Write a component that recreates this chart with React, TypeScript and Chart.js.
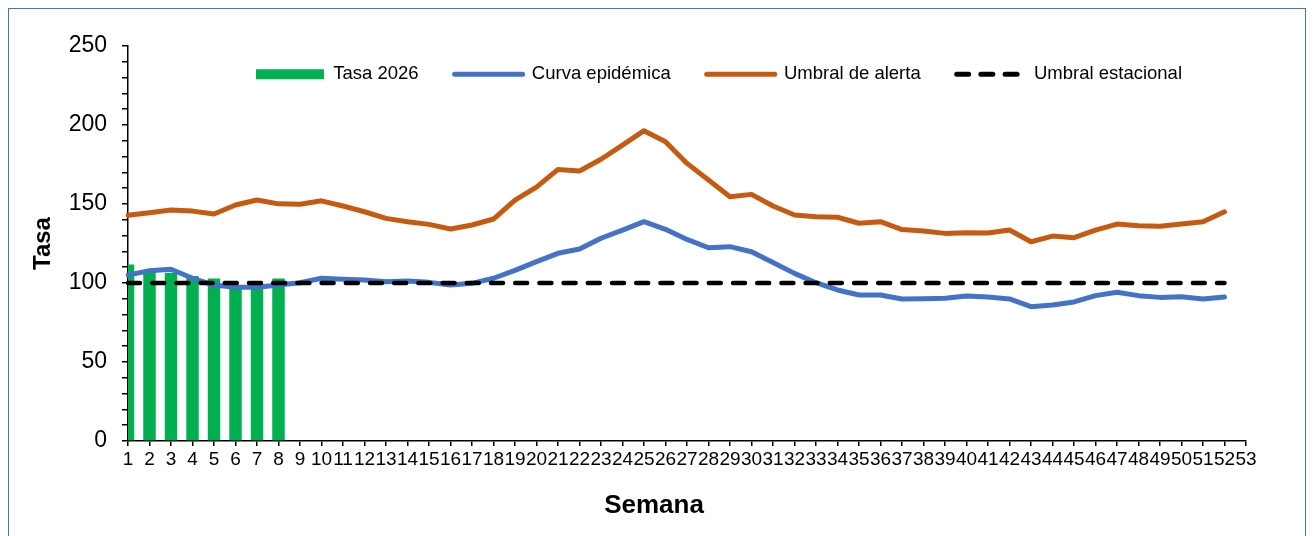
import React, { useEffect, useRef } from 'react';
import { Chart, registerables } from 'chart.js';

Chart.register(...registerables);

const weeks = [
  '1', '2', '3', '4', '5', '6', '7', '8', '9', '10',
  '11', '12', '13', '14', '15', '16', '17', '18', '19', '20',
  '21', '22', '23', '24', '25', '26', '27', '28', '29', '30',
  '31', '32', '33', '34', '35', '36', '37', '38', '39', '40',
  '41', '42', '43', '44', '45', '46', '47', '48', '49', '50',
  '51', '52', '53',
];

const tasa2026 = [111.7, 107, 106.5, 104.4, 102.8, 98.5, 98.5, 102.8];

const curvaEpidemica = [
  105, 107.8, 108.7, 103, 98.7, 97.3, 97.3, 98.7, 100.2, 103,
  102.3, 101.9, 100.8, 101.3, 100.4, 98.7, 99.8, 103, 108, 113.5,
  118.8, 121.5, 128.3, 133.5, 138.8, 134, 127.6, 122.3, 123, 119.8,
  113, 106.1, 100.2, 95.6, 92.4, 92.4, 89.9, 90.1, 90.3, 91.8,
  91.1, 89.9, 85, 86.1, 88, 92, 94.1, 92, 90.9, 91.3,
  89.9, 91.1, null,
];

const umbralAlerta = [
  142.9, 144.5, 146.2, 145.5, 143.7, 149.4, 152.5, 150.1, 149.8, 152,
  148.7, 145.1, 140.9, 138.8, 137.1, 134.2, 136.7, 140.5, 152.5, 160.7,
  171.9, 170.9, 178.3, 187.3, 196.4, 189.4, 175.7, 165.2, 154.6, 156.1,
  148.7, 143, 142, 141.6, 137.8, 138.8, 133.8, 132.9, 131.4, 131.8,
  131.6, 133.5, 126.1, 129.7, 128.7, 133.5, 137.3, 136.3, 135.9, 137.3,
  138.8, 145.1, null,
];

const umbralEstacional = [
  100, 100, 100, 100, 100, 100, 100, 100, 100, 100,
  100, 100, 100, 100, 100, 100, 100, 100, 100, 100,
  100, 100, 100, 100, 100, 100, 100, 100, 100, 100,
  100, 100, 100, 100, 100, 100, 100, 100, 100, 100,
  100, 100, 100, 100, 100, 100, 100, 100, 100, 100,
  100, 100, null,
];

const seriesLabels = ['Tasa 2026', 'Curva epidémica', 'Umbral de alerta', 'Umbral estacional'];
const seriesColors = ['#00B050', '#4472C4', '#C55A11', '#000000'];

const yMin = 0;
const yMax = 250;
const yMinorStep = 10;
const yLabelStep = 50;

const FONT = 'Arial, "Liberation Sans", sans-serif';

export default function App() {
  const canvasRef = useRef<HTMLCanvasElement>(null);

  useEffect(() => {
    if (!canvasRef.current) return;

    const adjustPlugin = {
      id: 'adjustPlugin',
      beforeUpdate(chart: any) {
        const lg = chart.legend;
        if (lg && !lg.__patched) {
          lg.isHorizontal = () => true;
          lg.__patched = true;
        }
      },
      afterLayout(chart: any) {
        const lg = chart.legend;
        const ca = chart.chartArea;
        if (lg && ca) {
          lg.left = ca.left + 32;
          lg.right = ca.right + 32;
          lg.top = ca.top - 17;
          lg.bottom = lg.top + lg.height;
        }
        const xs = chart.scales.x;
        if (xs && !xs.__patched) {
          const orig = Object.getPrototypeOf(xs).drawTitle;
          xs.drawTitle = function () {
            const c = this.ctx;
            c.save();
            c.translate(-33, 0);
            orig.call(this);
            c.restore();
          };
          xs.__patched = true;
        }
      },
    };

    const chart = new Chart(canvasRef.current, {
      type: 'bar',
      data: {
        labels: weeks,
        datasets: [
          {
            type: 'bar',
            label: seriesLabels[0],
            data: tasa2026,
            backgroundColor: seriesColors[0],
            borderWidth: 0,
            barPercentage: 0.58,
            categoryPercentage: 1,
            clip: 0,
            order: 3,
          } as any,
          {
            type: 'line',
            label: seriesLabels[1],
            data: curvaEpidemica,
            borderColor: seriesColors[1],
            backgroundColor: seriesColors[1],
            borderWidth: 5,
            pointRadius: 0,
            borderJoinStyle: 'round',
            borderCapStyle: 'round',
            tension: 0,
            order: 2,
          },
          {
            type: 'line',
            label: seriesLabels[2],
            data: umbralAlerta,
            borderColor: seriesColors[2],
            backgroundColor: seriesColors[2],
            borderWidth: 5,
            pointRadius: 0,
            borderJoinStyle: 'round',
            borderCapStyle: 'round',
            tension: 0,
            order: 1,
          },
          {
            type: 'line',
            label: seriesLabels[3],
            data: umbralEstacional,
            borderColor: seriesColors[3],
            backgroundColor: seriesColors[3],
            borderWidth: 4.5,
            borderDash: [12, 12.2],
            borderCapStyle: 'round',
            pointRadius: 0,
            tension: 0,
            order: 0,
          },
        ],
      },
      options: {
        animation: false,
        responsive: true,
        maintainAspectRatio: false,
        layout: {
          padding: { left: 10, right: 59, top: 37, bottom: 18 },
        },
        plugins: {
          tooltip: { enabled: false },
          legend: {
            display: true,
            position: 'chartArea',
            align: 'center',
            labels: {
              usePointStyle: true,
              pointStyleWidth: 68,
              boxHeight: 10,
              padding: 36,
              color: '#000',
              font: { family: FONT, size: 18.5 },
              generateLabels: (chart: any) =>
                chart.data.datasets.map((ds: any, i: number) => ({
                  text: ds.label,
                  datasetIndex: i,
                  pointStyle: 'line',
                  fillStyle: seriesColors[i],
                  strokeStyle: seriesColors[i],
                  fontColor: '#000',
                  lineWidth: i === 0 ? 10 : 5,
                  lineCap: i === 0 ? 'butt' : 'round',
                  lineDash: i === 3 ? [12, 12.2] : [],
                  hidden: false,
                })),
            },
          },
        },
        scales: {
          x: {
            type: 'category',
            offset: false,
            grid: {
              display: true,
              offset: false,
              drawOnChartArea: false,
              drawTicks: true,
              tickLength: 5,
              color: '#000',
              lineWidth: 1.5,
            },
            border: { display: true, color: '#000', width: 1.5 },
            ticks: {
              autoSkip: false,
              maxRotation: 0,
              minRotation: 0,
              padding: 2,
              color: '#000',
              font: { family: FONT, size: 19 },
            },
            title: {
              display: true,
              text: 'Semana',
              color: '#000',
              font: { family: FONT, size: 26, weight: 'bold' },
              padding: { top: 0, bottom: 10 },
            },
            afterFit: (scale: any) => {
              scale.height = 90;
            },
          },
          y: {
            min: yMin,
            max: yMax,
            grid: {
              display: true,
              drawOnChartArea: false,
              drawTicks: true,
              tickLength: 6,
              color: '#000',
              lineWidth: 1.5,
            },
            border: { display: true, color: '#000', width: 1.5 },
            ticks: {
              stepSize: yMinorStep,
              autoSkip: false,
              padding: 15,
              color: '#000',
              font: { family: FONT, size: 23 },
              callback: (v: any) => (Number(v) % yLabelStep === 0 ? String(v) : ''),
            },
            title: {
              display: true,
              text: 'Tasa',
              color: '#000',
              font: { family: FONT, size: 24, weight: 'bold' },
              padding: { top: 10, bottom: 0 },
            },
            afterFit: (scale: any) => {
              scale.width = 109;
            },
          },
        },
      },
      plugins: [adjustPlugin],
    } as any);

    return () => chart.destroy();
  }, []);

  return (
    <div style={{ border: '1px solid #4472C4', background: '#fff' }}>
      <div style={{ position: 'relative', height: 540 }}>
        <canvas ref={canvasRef} />
      </div>
    </div>
  );
}
